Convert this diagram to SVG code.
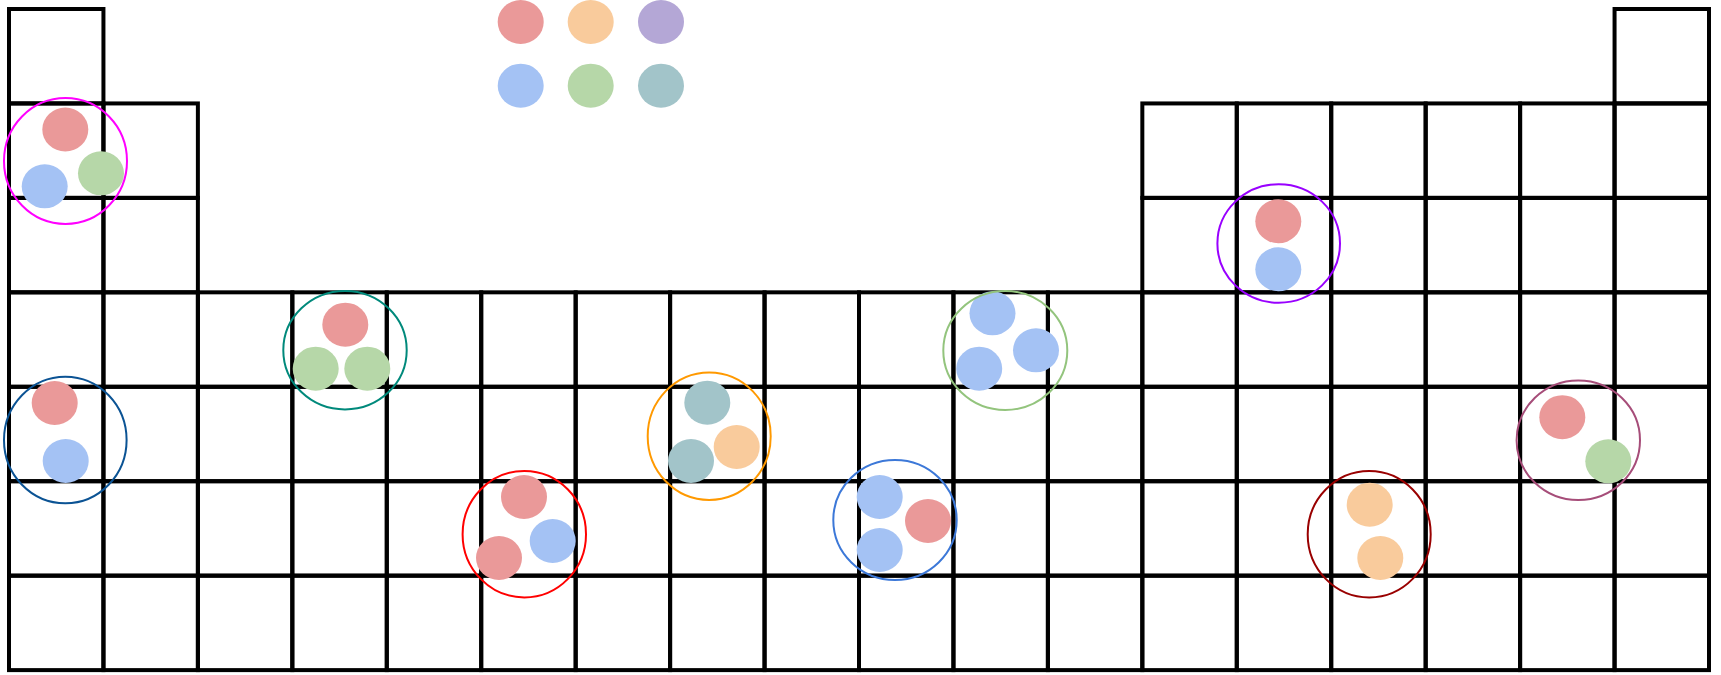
<svg xmlns="http://www.w3.org/2000/svg" width="1721" height="675" viewBox="0 0 1721 675">
<style>
.cell{fill:none;stroke:#000;stroke-width:4}
.ring{fill:none;stroke-width:2}
.r{fill:#EA9999}.o{fill:#F9CB9C}.p{fill:#B4A7D6}.b{fill:#A4C2F4}.g{fill:#B6D7A8}.t{fill:#A2C4C9}
</style>
<rect width="1721" height="675" fill="#fff"/>
<g id="grid">
<g id="row0">
<rect class="cell" x="9" y="9" width="94.44" height="94.44"/>
<rect class="cell" x="1614.56" y="9" width="94.44" height="94.44"/>
</g>
<g id="row1">
<rect class="cell" x="9" y="103.44" width="94.44" height="94.44"/>
<rect class="cell" x="103.44" y="103.44" width="94.44" height="94.44"/>
<rect class="cell" x="1142.33" y="103.44" width="94.44" height="94.44"/>
<rect class="cell" x="1236.78" y="103.44" width="94.44" height="94.44"/>
<rect class="cell" x="1331.22" y="103.44" width="94.44" height="94.44"/>
<rect class="cell" x="1425.67" y="103.44" width="94.44" height="94.44"/>
<rect class="cell" x="1520.11" y="103.44" width="94.44" height="94.44"/>
<rect class="cell" x="1614.56" y="103.44" width="94.44" height="94.44"/>
</g>
<g id="row2">
<rect class="cell" x="9" y="197.89" width="94.44" height="94.44"/>
<rect class="cell" x="103.44" y="197.89" width="94.44" height="94.44"/>
<rect class="cell" x="1142.33" y="197.89" width="94.44" height="94.44"/>
<rect class="cell" x="1236.78" y="197.89" width="94.44" height="94.44"/>
<rect class="cell" x="1331.22" y="197.89" width="94.44" height="94.44"/>
<rect class="cell" x="1425.67" y="197.89" width="94.44" height="94.44"/>
<rect class="cell" x="1520.11" y="197.89" width="94.44" height="94.44"/>
<rect class="cell" x="1614.56" y="197.89" width="94.44" height="94.44"/>
</g>
<g id="row3">
<rect class="cell" x="9" y="292.33" width="94.44" height="94.44"/>
<rect class="cell" x="103.44" y="292.33" width="94.44" height="94.44"/>
<rect class="cell" x="197.89" y="292.33" width="94.44" height="94.44"/>
<rect class="cell" x="292.33" y="292.33" width="94.44" height="94.44"/>
<rect class="cell" x="386.78" y="292.33" width="94.44" height="94.44"/>
<rect class="cell" x="481.22" y="292.33" width="94.44" height="94.44"/>
<rect class="cell" x="575.67" y="292.33" width="94.44" height="94.44"/>
<rect class="cell" x="670.11" y="292.33" width="94.44" height="94.44"/>
<rect class="cell" x="764.56" y="292.33" width="94.44" height="94.44"/>
<rect class="cell" x="859" y="292.33" width="94.44" height="94.44"/>
<rect class="cell" x="953.44" y="292.33" width="94.44" height="94.44"/>
<rect class="cell" x="1047.89" y="292.33" width="94.44" height="94.44"/>
<rect class="cell" x="1142.33" y="292.33" width="94.44" height="94.44"/>
<rect class="cell" x="1236.78" y="292.33" width="94.44" height="94.44"/>
<rect class="cell" x="1331.22" y="292.33" width="94.44" height="94.44"/>
<rect class="cell" x="1425.67" y="292.33" width="94.44" height="94.44"/>
<rect class="cell" x="1520.11" y="292.33" width="94.44" height="94.44"/>
<rect class="cell" x="1614.56" y="292.33" width="94.44" height="94.44"/>
</g>
<g id="row4">
<rect class="cell" x="9" y="386.78" width="94.44" height="94.44"/>
<rect class="cell" x="103.44" y="386.78" width="94.44" height="94.44"/>
<rect class="cell" x="197.89" y="386.78" width="94.44" height="94.44"/>
<rect class="cell" x="292.33" y="386.78" width="94.44" height="94.44"/>
<rect class="cell" x="386.78" y="386.78" width="94.44" height="94.44"/>
<rect class="cell" x="481.22" y="386.78" width="94.44" height="94.44"/>
<rect class="cell" x="575.67" y="386.78" width="94.44" height="94.44"/>
<rect class="cell" x="670.11" y="386.78" width="94.44" height="94.44"/>
<rect class="cell" x="764.56" y="386.78" width="94.44" height="94.44"/>
<rect class="cell" x="859" y="386.78" width="94.44" height="94.44"/>
<rect class="cell" x="953.44" y="386.78" width="94.44" height="94.44"/>
<rect class="cell" x="1047.89" y="386.78" width="94.44" height="94.44"/>
<rect class="cell" x="1142.33" y="386.78" width="94.44" height="94.44"/>
<rect class="cell" x="1236.78" y="386.78" width="94.44" height="94.44"/>
<rect class="cell" x="1331.22" y="386.78" width="94.44" height="94.44"/>
<rect class="cell" x="1425.67" y="386.78" width="94.44" height="94.44"/>
<rect class="cell" x="1520.11" y="386.78" width="94.44" height="94.44"/>
<rect class="cell" x="1614.56" y="386.78" width="94.44" height="94.44"/>
</g>
<g id="row5">
<rect class="cell" x="9" y="481.22" width="94.44" height="94.44"/>
<rect class="cell" x="103.44" y="481.22" width="94.44" height="94.44"/>
<rect class="cell" x="197.89" y="481.22" width="94.44" height="94.44"/>
<rect class="cell" x="292.33" y="481.22" width="94.44" height="94.44"/>
<rect class="cell" x="386.78" y="481.22" width="94.44" height="94.44"/>
<rect class="cell" x="481.22" y="481.22" width="94.44" height="94.44"/>
<rect class="cell" x="575.67" y="481.22" width="94.44" height="94.44"/>
<rect class="cell" x="670.11" y="481.22" width="94.44" height="94.44"/>
<rect class="cell" x="764.56" y="481.22" width="94.44" height="94.44"/>
<rect class="cell" x="859" y="481.22" width="94.44" height="94.44"/>
<rect class="cell" x="953.44" y="481.22" width="94.44" height="94.44"/>
<rect class="cell" x="1047.89" y="481.22" width="94.44" height="94.44"/>
<rect class="cell" x="1142.33" y="481.22" width="94.44" height="94.44"/>
<rect class="cell" x="1236.78" y="481.22" width="94.44" height="94.44"/>
<rect class="cell" x="1331.22" y="481.22" width="94.44" height="94.44"/>
<rect class="cell" x="1425.67" y="481.22" width="94.44" height="94.44"/>
<rect class="cell" x="1520.11" y="481.22" width="94.44" height="94.44"/>
<rect class="cell" x="1614.56" y="481.22" width="94.44" height="94.44"/>
</g>
<g id="row6">
<rect class="cell" x="9" y="575.67" width="94.44" height="94.44"/>
<rect class="cell" x="103.44" y="575.67" width="94.44" height="94.44"/>
<rect class="cell" x="197.89" y="575.67" width="94.44" height="94.44"/>
<rect class="cell" x="292.33" y="575.67" width="94.44" height="94.44"/>
<rect class="cell" x="386.78" y="575.67" width="94.44" height="94.44"/>
<rect class="cell" x="481.22" y="575.67" width="94.44" height="94.44"/>
<rect class="cell" x="575.67" y="575.67" width="94.44" height="94.44"/>
<rect class="cell" x="670.11" y="575.67" width="94.44" height="94.44"/>
<rect class="cell" x="764.56" y="575.67" width="94.44" height="94.44"/>
<rect class="cell" x="859" y="575.67" width="94.44" height="94.44"/>
<rect class="cell" x="953.44" y="575.67" width="94.44" height="94.44"/>
<rect class="cell" x="1047.89" y="575.67" width="94.44" height="94.44"/>
<rect class="cell" x="1142.33" y="575.67" width="94.44" height="94.44"/>
<rect class="cell" x="1236.78" y="575.67" width="94.44" height="94.44"/>
<rect class="cell" x="1331.22" y="575.67" width="94.44" height="94.44"/>
<rect class="cell" x="1425.67" y="575.67" width="94.44" height="94.44"/>
<rect class="cell" x="1520.11" y="575.67" width="94.44" height="94.44"/>
<rect class="cell" x="1614.56" y="575.67" width="94.44" height="94.44"/>
</g>
</g>
<g id="legend">
<ellipse class="r" cx="520.7" cy="22" rx="23" ry="22"/>
<ellipse class="o" cx="590.7" cy="22" rx="23" ry="22"/>
<ellipse class="p" cx="661" cy="22" rx="23" ry="22"/>
<ellipse class="b" cx="520.7" cy="85.7" rx="23" ry="22"/>
<ellipse class="g" cx="590.7" cy="85.7" rx="23" ry="22"/>
<ellipse class="t" cx="661" cy="85.7" rx="23" ry="22"/>
</g>
<g id="compound1">
<ellipse class="r" cx="65.3" cy="129.5" rx="23" ry="22"/>
<ellipse class="b" cx="44.7" cy="186.3" rx="23" ry="22"/>
<ellipse class="g" cx="101" cy="173.3" rx="23" ry="22"/>
<ellipse class="ring" stroke="#FF00FF" cx="65.5" cy="161" rx="61.5" ry="63"/>
</g>
<g id="compound2">
<ellipse class="r" cx="1278.3" cy="221.3" rx="23" ry="22"/>
<ellipse class="b" cx="1278.3" cy="269.3" rx="23" ry="22"/>
<ellipse class="ring" stroke="#9900FF" cx="1278.7" cy="243.5" rx="61.3" ry="59.2"/>
</g>
<g id="compound3">
<ellipse class="r" cx="54.7" cy="403" rx="23" ry="22"/>
<ellipse class="b" cx="65.7" cy="461" rx="23" ry="22"/>
<ellipse class="ring" stroke="#0B5394" cx="65.3" cy="440" rx="61.3" ry="63.3"/>
</g>
<g id="compound4">
<ellipse class="r" cx="1562.3" cy="417.2" rx="23" ry="22"/>
<ellipse class="g" cx="1608.3" cy="461.3" rx="23" ry="22"/>
<ellipse class="ring" stroke="#A64D79" cx="1578.3" cy="440.3" rx="61.7" ry="59.7"/>
</g>
<g id="compound5">
<ellipse class="r" cx="345.3" cy="324.7" rx="23" ry="22"/>
<ellipse class="g" cx="315.7" cy="368.7" rx="23" ry="22"/>
<ellipse class="g" cx="367.3" cy="368.7" rx="23" ry="22"/>
<ellipse class="ring" stroke="#00897B" cx="345" cy="350.2" rx="61.7" ry="59.2"/>
</g>
<g id="compound6">
<ellipse class="r" cx="524" cy="497" rx="23" ry="22"/>
<ellipse class="b" cx="552.7" cy="541" rx="23" ry="22"/>
<ellipse class="r" cx="499" cy="558" rx="23" ry="22"/>
<ellipse class="ring" stroke="#FF0000" cx="524.3" cy="534.2" rx="61.7" ry="63.2"/>
</g>
<g id="compound7">
<ellipse class="t" cx="707.3" cy="402.7" rx="23" ry="22"/>
<ellipse class="o" cx="736.7" cy="447" rx="23" ry="22"/>
<ellipse class="t" cx="691" cy="461" rx="23" ry="22"/>
<ellipse class="ring" stroke="#FF9900" cx="709.2" cy="436.2" rx="61.5" ry="63.8"/>
</g>
<g id="compound8">
<ellipse class="b" cx="879.7" cy="497" rx="23" ry="22"/>
<ellipse class="r" cx="928" cy="521" rx="23" ry="22"/>
<ellipse class="b" cx="879.7" cy="550" rx="23" ry="22"/>
<ellipse class="ring" stroke="#3C78D8" cx="895" cy="520" rx="61.7" ry="60"/>
</g>
<g id="compound9">
<ellipse class="b" cx="992.5" cy="313.3" rx="23" ry="22"/>
<ellipse class="b" cx="1036" cy="350.3" rx="23" ry="22"/>
<ellipse class="b" cx="979.2" cy="368.7" rx="23" ry="22"/>
<ellipse class="ring" stroke="#93C47D" cx="1005.3" cy="350.5" rx="62" ry="59.5"/>
</g>
<g id="compound10">
<ellipse class="o" cx="1369.7" cy="504.7" rx="23" ry="22"/>
<ellipse class="o" cx="1380.3" cy="558" rx="23" ry="22"/>
<ellipse class="ring" stroke="#990000" cx="1369.2" cy="534.2" rx="61.5" ry="63.2"/>
</g>
<g id="connectors"/>
</svg>
